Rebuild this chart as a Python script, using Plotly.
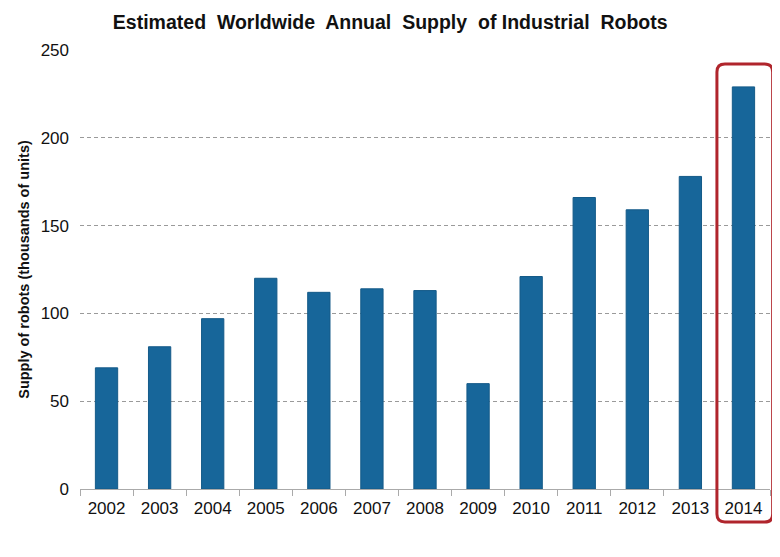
import plotly.graph_objects as go

years = ["2002", "2003", "2004", "2005", "2006", "2007", "2008",
         "2009", "2010", "2011", "2012", "2013", "2014"]
supply = [69, 81, 97, 120, 112, 114, 113, 60, 121, 166, 159, 178, 229]
y_ticks = [0, 50, 100, 150, 200, 250]
y_max = 250

fig = go.Figure()
fig.add_trace(go.Bar(
    x=years, y=supply,
    marker=dict(color="#17669a", line=dict(color="#145a88", width=1)),
    width=0.42,
))

# rounded highlight box around the last category (paper coords derived from data)
n = len(years)
idx = n - 1
x0, x1 = idx / n, (idx + 1.05) / n
y0, y1 = -18.8 / y_max, 242 / y_max
rx, ry = 0.0116, 0.018
path = (f"M {x0+rx},{y1} L {x1-rx},{y1} Q {x1},{y1} {x1},{y1-ry} "
        f"L {x1},{y0+ry} Q {x1},{y0} {x1-rx},{y0} "
        f"L {x0+rx},{y0} Q {x0},{y0} {x0},{y0+ry} "
        f"L {x0},{y1-ry} Q {x0},{y1} {x0+rx},{y1} Z")
fig.add_shape(type="path", path=path, xref="paper", yref="paper",
              line=dict(color="#b0252c", width=3))

fig.update_layout(
    width=780, height=557,
    margin=dict(l=72, r=18, t=42, b=76),
    paper_bgcolor="white", plot_bgcolor="white",
    showlegend=False,
    font=dict(family="Arial, Liberation Sans, sans-serif", color="#111"),
    title=dict(text="<b>Estimated  Worldwide  Annual  Supply  of Industrial  Robots</b>",
               x=0.49, xref="container", xanchor="center",
               y=0.975, yref="container", yanchor="middle",
               font=dict(size=19.5, color="#111")),
    xaxis=dict(
        type="category",
        showline=True, linecolor="#aaaaaa", linewidth=1,
        ticks="outside", tickson="boundaries", ticklen=6, tickcolor="#aaaaaa",
        tickfont=dict(size=17, color="#111"),
        ticklabelstandoff=4,
        showgrid=False,
        range=[-0.5, n - 0.5],
    ),
    yaxis=dict(
        range=[0, y_max], tickvals=y_ticks,
        showgrid=True, gridcolor="#9a9a9a", griddash="4px,3px", gridwidth=1,
        zeroline=False, showline=False,
        tickfont=dict(size=17, color="#111"),
        ticks="", ticklen=0, ticklabelstandoff=10,
        title=dict(text="<b>Supply of robots (thousands of units)</b>",
                   font=dict(size=14.5, color="#111"), standoff=7),
    ),
)

fig.write_html("out.html")
